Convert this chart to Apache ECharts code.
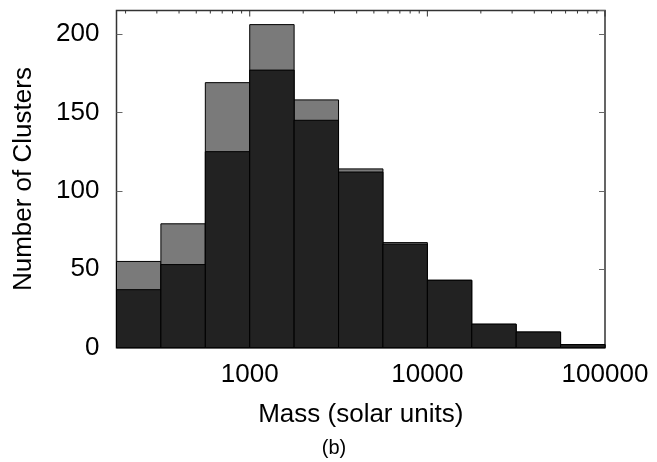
<!DOCTYPE html>
<html>
<head>
<meta charset="utf-8">
<script src="https://cdn.jsdelivr.net/npm/echarts@6/dist/echarts.min.js"></script>
<style>html,body{margin:0;padding:0;background:#fff;}#c{width:657px;height:462px;}</style>
</head>
<body>
<div id="c"></div>
<script>
// Histogram bin edges (mass, solar units), log-spaced 4 per decade
const massEdges = [177.8, 316.2, 562.3, 1000, 1778, 3162, 5623, 10000, 17783, 31623, 56234, 100000];
// Counts per bin: all clusters (grey, behind) and subset (dark, front)
const totalCounts = [55, 79, 169, 206, 158, 114, 67, 43, 15, 10, 2];
const subsetCounts = [37, 53, 125, 177, 145, 112, 66, 43, 15, 10, 2];
// Axis tick values
const yTicks = [0, 50, 100, 150, 200];
const xMajorTicks = [1000, 10000, 100000];
const xMinorMultipliers = [2, 3, 4, 5, 6, 7, 8, 9];
const xDecades = [100, 1000, 10000];
const xLabels = ['1000', '10000', '100000'];
const yMax = 215;

const lg = Math.log10;
const xMin = 2.25, xMax = 5;

const FONT = 'Liberation Sans, Arial, Helvetica, sans-serif';
const FS = 26;

function binData(counts) {
  return counts.map((v, i) => [lg(massEdges[i]), lg(massEdges[i + 1]), v]);
}

function barRender(color) {
  return function (params, api) {
    const lo = api.value(0), hi = api.value(1), v = api.value(2);
    const p0 = api.coord([lo, v]);
    const p1 = api.coord([hi, 0]);
    return {
      type: 'rect',
      shape: { x: p0[0], y: p0[1], width: p1[0] - p0[0], height: p1[1] - p0[1] },
      style: { fill: color, stroke: '#000', lineWidth: 1 }
    };
  };
}

const tickData = [];
xDecades.forEach(d => xMinorMultipliers.forEach(m => {
  const v = d * m;
  if (lg(v) >= xMin) tickData.push([lg(v), 3]);
}));
xMajorTicks.forEach(v => tickData.push([lg(v), 6]));

const chart = echarts.init(document.getElementById('c'), null, { renderer: 'canvas' });
chart.setOption({
  animation: false,
  backgroundColor: '#fff',
  grid: {
    left: 116.5, right: 52, top: 10.5, bottom: 114.3,
    show: true, borderColor: '#333', borderWidth: 1.5,
    outerBoundsMode: 'none'
  },
  xAxis: {
    type: 'value', min: xMin, max: xMax, interval: 0.25,
    axisLine: { show: false }, axisTick: { show: false }, splitLine: { show: false },
    axisLabel: {
      margin: 14, color: '#000', fontFamily: FONT, fontSize: FS,
      formatter: function (v) {
        const i = xMajorTicks.findIndex(t => Math.abs(lg(t) - v) < 1e-6);
        return i >= 0 ? xLabels[i] : '';
      }
    },
    name: 'Mass (solar units)', nameLocation: 'middle', nameGap: 54,
    nameTextStyle: { color: '#000', fontFamily: FONT, fontSize: FS }
  },
  yAxis: [{
    type: 'value', min: 0, max: yMax, interval: 50,
    axisLine: { show: false }, splitLine: { show: false },
    axisTick: { show: true, inside: true, length: 6, lineStyle: { color: '#666', width: 1 } },
    axisLabel: { margin: 17, color: '#000', fontFamily: FONT, fontSize: FS, showMaxLabel: false,
      formatter: v => (yTicks.indexOf(v) >= 0 ? String(v) : '') },
    name: 'Number of Clusters', nameLocation: 'middle', nameGap: 80,
    nameTextStyle: { color: '#000', fontFamily: FONT, fontSize: FS }
  }, {
    type: 'value', min: 0, max: yMax, interval: 50, position: 'right',
    axisLine: { show: false }, splitLine: { show: false },
    axisTick: { show: true, inside: true, length: 6, lineStyle: { color: '#666', width: 1 } },
    axisLabel: { show: false }
  }],
  series: [
    {
      type: 'custom', renderItem: function (params, api) {
        const p = api.coord([api.value(0), yMax]);
        const len = api.value(1);
        return { type: 'line', shape: { x1: p[0], y1: p[1], x2: p[0], y2: p[1] + len },
          style: { stroke: '#333', lineWidth: 1 } };
      }, data: tickData, z: 1, silent: true
    },
    { type: 'custom', renderItem: barRender('#7a7a7a'), data: binData(totalCounts), z: 2, silent: true },
    { type: 'custom', renderItem: barRender('#222222'), data: binData(subsetCounts), z: 3, silent: true }
  ],
  graphic: [{
    type: 'text', x: 334, y: 448,
    style: { text: '(b)', fill: '#000', font: '20px ' + FONT, textAlign: 'center', textVerticalAlign: 'middle' }
  }]
});
</script>
</body>
</html>
